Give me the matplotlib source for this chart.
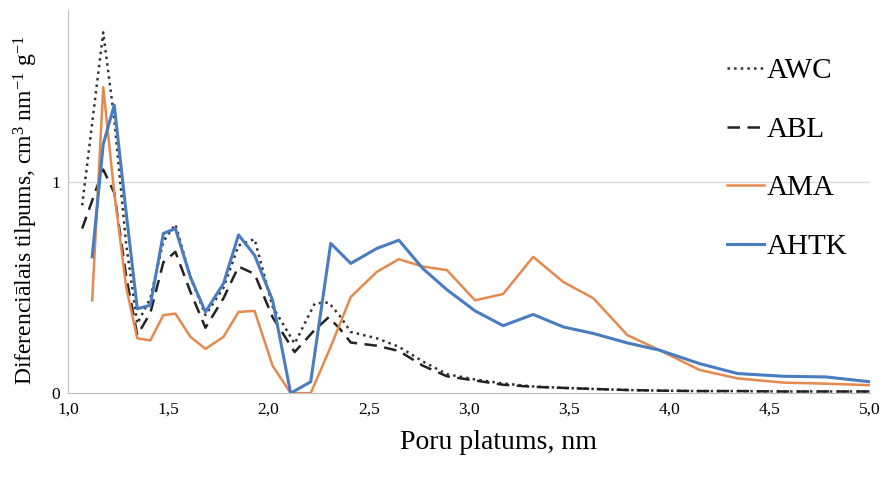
import numpy as np
import matplotlib.pyplot as plt

# pore width, nm
x_main = [1.12, 1.175, 1.23, 1.29, 1.345, 1.41, 1.475, 1.535, 1.61, 1.685, 1.775, 1.85, 1.93,
          2.02, 2.11, 2.21, 2.31, 2.41, 2.54, 2.65, 2.77, 2.89, 3.03, 3.17, 3.32, 3.47, 3.62,
          3.79, 3.95, 4.15, 4.34, 4.57, 4.78, 5.0]
x_black = [1.07, 1.175, 1.23, 1.29, 1.345, 1.41, 1.475, 1.535, 1.61, 1.685, 1.775, 1.85, 1.93,
           2.02, 2.13, 2.23, 2.30, 2.36, 2.41, 2.54, 2.65, 2.77, 2.89, 3.03, 3.17, 3.32, 3.47,
           3.62, 3.79, 3.95, 4.15, 4.34, 4.57, 4.78, 5.0]

awc = [0.89, 1.71, 1.30, 0.70, 0.33, 0.45, 0.72, 0.80, 0.55, 0.37, 0.50, 0.70, 0.73,
       0.41, 0.235, 0.425, 0.43, 0.36, 0.29, 0.26, 0.22, 0.15, 0.09, 0.065, 0.046, 0.032, 0.025,
       0.02, 0.015, 0.012, 0.01, 0.01, 0.008, 0.008, 0.008]
abl = [0.78, 1.06, 0.95, 0.55, 0.275, 0.38, 0.62, 0.67, 0.48, 0.31, 0.45, 0.60, 0.565,
       0.36, 0.195, 0.30, 0.36, 0.30, 0.24, 0.225, 0.20, 0.13, 0.08, 0.06, 0.04, 0.03, 0.025,
       0.02, 0.015, 0.012, 0.01, 0.01, 0.008, 0.008, 0.008]
ama = [0.44, 1.45, 0.95, 0.50, 0.26, 0.25, 0.37, 0.377, 0.267, 0.21, 0.267, 0.385, 0.39,
       0.13, 0.0, 0.0, 0.22, 0.456, 0.575, 0.635, 0.60, 0.583, 0.44, 0.47, 0.646, 0.527, 0.45,
       0.275, 0.204, 0.11, 0.07, 0.05, 0.045, 0.038]
ahtk = [0.646, 1.18, 1.365, 0.85, 0.40, 0.417, 0.757, 0.78, 0.55, 0.385, 0.52, 0.75, 0.654,
        0.44, 0.0, 0.054, 0.71, 0.615, 0.686, 0.725, 0.59, 0.49, 0.39, 0.32, 0.373, 0.314, 0.283,
        0.238, 0.204, 0.14, 0.093, 0.08, 0.077, 0.054]

plt.rcParams['font.family'] = ['Liberation Serif', 'DejaVu Serif']
plt.rcParams['mathtext.fontset'] = 'custom'
plt.rcParams['mathtext.rm'] = 'Liberation Serif'
plt.rcParams['mathtext.it'] = 'Liberation Serif:italic'

fig = plt.figure(figsize=(8.85, 4.86), dpi=100)
ax = fig.add_axes([0.077, 0.191, 0.906, 0.788])

ax.plot(x_black, awc, color="#333333", linestyle=":", linewidth=1.8, label="AWC")
ax.plot(x_black, abl, color="#222222", linestyle=(0, (5, 3)), linewidth=1.8, label="ABL")
ax.plot(x_main, ama, color="#E5894F", linewidth=1.8, label="AMA")
ax.plot(x_main, ahtk, color="#4A7CC0", linewidth=2.2, label="AHTK")

ax.set_xlim(1.0, 5.0)
ax.set_ylim(0, 1.815)
xt = np.arange(1.0, 5.01, 0.5)
ax.set_xticks(xt)
ax.set_xticklabels([f"{v:.1f}".replace(".", ",") for v in xt], fontsize=12.5)
ax.set_yticks([0, 1])
ax.set_yticklabels(["0", "1"], fontsize=12.5)
ax.tick_params(length=0, pad=6)
ax.axhline(1, color="#d9d9d9", linewidth=1, zorder=0)

for s in ["top", "right"]:
    ax.spines[s].set_visible(False)
ax.spines["left"].set_color("#bfbfbf")
ax.spines["bottom"].set_color("#bfbfbf")

ax.set_xlabel("Poru platums, nm", fontsize=20)
ax.xaxis.set_label_coords(0.537, -0.095)
ax.set_ylabel(r"Diferenciālais tilpums, cm$^\mathrm{3}$ nm$^\mathrm{-1}$ g$^\mathrm{-1}$", fontsize=17)
ax.yaxis.set_label_coords(-0.035, 0.478)

ax.legend(loc="upper left", bbox_to_anchor=(0.822, 0.875), frameon=False, fontsize=21,
          handlelength=1.25, handletextpad=0.1, labelspacing=1.1, borderpad=0, borderaxespad=0)

plt.savefig("out.png", dpi=100)
